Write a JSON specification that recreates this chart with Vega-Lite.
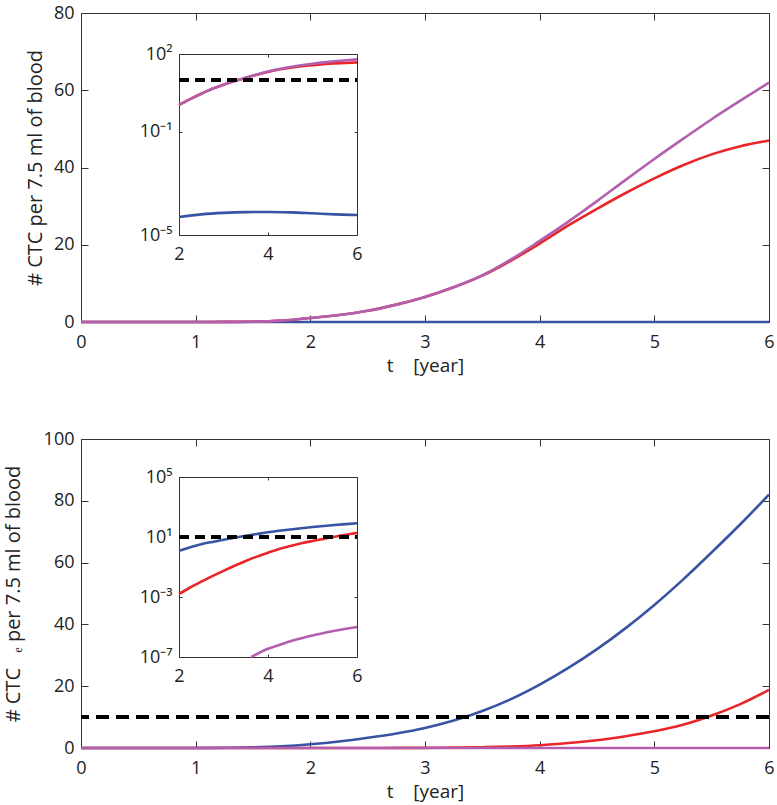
{
  "$schema": "https://vega.github.io/schema/vega-lite/v6.json",
  "padding": {"left": 3, "top": 4, "right": 2, "bottom": 4},
  "autosize": {"type": "pad"},
  "background": "white",
  "config": {
    "view": {"stroke": null},
    "axis": {
      "grid": false,
      "domainColor": "#333333",
      "tickColor": "#333333",
      "labelColor": "#222222",
      "titleColor": "#222222",
      "labelFont": "Open Sans",
      "titleFont": "Open Sans",
      "labelFontSize": 18,
      "titleFontSize": 20,
      "titleFontWeight": "normal",
      "labelFlush": false,
      "labelOverlap": false
    }
  },
  "datasets": {
    "top": [
      {"s": "B", "t": 0, "v": 0},
      {"s": "B", "t": 1, "v": 0.00002},
      {"s": "B", "t": 1.5, "v": 0.000035},
      {"s": "B", "t": 2, "v": 0.00005},
      {"s": "B", "t": 2.5, "v": 0.000063},
      {"s": "B", "t": 3, "v": 0.000072},
      {"s": "B", "t": 3.5, "v": 0.000077},
      {"s": "B", "t": 4, "v": 0.000078},
      {"s": "B", "t": 4.5, "v": 0.000075},
      {"s": "B", "t": 5, "v": 0.000069},
      {"s": "B", "t": 5.5, "v": 0.000063},
      {"s": "B", "t": 6, "v": 0.000059},
      {"s": "R", "t": 0, "v": 0},
      {"s": "R", "t": 0.5, "v": 0},
      {"s": "R", "t": 1, "v": 0.003},
      {"s": "R", "t": 1.25, "v": 0.02},
      {"s": "R", "t": 1.5, "v": 0.08},
      {"s": "R", "t": 1.75, "v": 0.35},
      {"s": "R", "t": 2, "v": 1.05},
      {"s": "R", "t": 2.25, "v": 1.8},
      {"s": "R", "t": 2.5, "v": 2.9},
      {"s": "R", "t": 2.75, "v": 4.5},
      {"s": "R", "t": 3, "v": 6.5},
      {"s": "R", "t": 3.25, "v": 9.0},
      {"s": "R", "t": 3.5, "v": 12},
      {"s": "R", "t": 3.75, "v": 15.9},
      {"s": "R", "t": 4, "v": 20.3},
      {"s": "R", "t": 4.25, "v": 25},
      {"s": "R", "t": 4.5, "v": 29.3},
      {"s": "R", "t": 4.75, "v": 33.4},
      {"s": "R", "t": 5, "v": 37.2},
      {"s": "R", "t": 5.25, "v": 40.6},
      {"s": "R", "t": 5.5, "v": 43.4},
      {"s": "R", "t": 5.75, "v": 45.5},
      {"s": "R", "t": 6, "v": 47},
      {"s": "P", "t": 0, "v": 0},
      {"s": "P", "t": 0.5, "v": 0},
      {"s": "P", "t": 1, "v": 0.003},
      {"s": "P", "t": 1.25, "v": 0.02},
      {"s": "P", "t": 1.5, "v": 0.08},
      {"s": "P", "t": 1.75, "v": 0.35},
      {"s": "P", "t": 2, "v": 1.05},
      {"s": "P", "t": 2.25, "v": 1.8},
      {"s": "P", "t": 2.5, "v": 2.9},
      {"s": "P", "t": 2.75, "v": 4.5},
      {"s": "P", "t": 3, "v": 6.5},
      {"s": "P", "t": 3.25, "v": 9.0},
      {"s": "P", "t": 3.5, "v": 12.1},
      {"s": "P", "t": 3.75, "v": 16.2},
      {"s": "P", "t": 4, "v": 21},
      {"s": "P", "t": 4.25, "v": 26},
      {"s": "P", "t": 4.5, "v": 31.3},
      {"s": "P", "t": 4.75, "v": 36.8},
      {"s": "P", "t": 5, "v": 42.2},
      {"s": "P", "t": 5.25, "v": 47.4},
      {"s": "P", "t": 5.5, "v": 52.5},
      {"s": "P", "t": 5.75, "v": 57.3},
      {"s": "P", "t": 6, "v": 62}
    ],
    "bot": [
      {"s": "B", "t": 0, "v": 0},
      {"s": "B", "t": 0.5, "v": 0.0005},
      {"s": "B", "t": 1, "v": 0.02},
      {"s": "B", "t": 1.25, "v": 0.07},
      {"s": "B", "t": 1.5, "v": 0.2},
      {"s": "B", "t": 1.75, "v": 0.55},
      {"s": "B", "t": 2, "v": 1.2},
      {"s": "B", "t": 2.25, "v": 2.1},
      {"s": "B", "t": 2.5, "v": 3.3},
      {"s": "B", "t": 2.75, "v": 4.7},
      {"s": "B", "t": 3, "v": 6.5},
      {"s": "B", "t": 3.25, "v": 8.9},
      {"s": "B", "t": 3.5, "v": 12},
      {"s": "B", "t": 3.75, "v": 15.8},
      {"s": "B", "t": 4, "v": 20.5},
      {"s": "B", "t": 4.25, "v": 25.9},
      {"s": "B", "t": 4.5, "v": 32},
      {"s": "B", "t": 4.75, "v": 38.8},
      {"s": "B", "t": 5, "v": 46.3},
      {"s": "B", "t": 5.25, "v": 54.5},
      {"s": "B", "t": 5.5, "v": 63.3},
      {"s": "B", "t": 5.75, "v": 72.4},
      {"s": "B", "t": 6, "v": 82},
      {"s": "R", "t": 0, "v": 0},
      {"s": "R", "t": 1, "v": 0.00001},
      {"s": "R", "t": 1.5, "v": 0.0002},
      {"s": "R", "t": 2, "v": 0.0016},
      {"s": "R", "t": 2.25, "v": 0.0043},
      {"s": "R", "t": 2.5, "v": 0.0105},
      {"s": "R", "t": 2.75, "v": 0.0245},
      {"s": "R", "t": 3, "v": 0.055},
      {"s": "R", "t": 3.25, "v": 0.12},
      {"s": "R", "t": 3.5, "v": 0.25},
      {"s": "R", "t": 3.75, "v": 0.49},
      {"s": "R", "t": 4, "v": 0.9},
      {"s": "R", "t": 4.25, "v": 1.6},
      {"s": "R", "t": 4.5, "v": 2.5},
      {"s": "R", "t": 4.75, "v": 3.8},
      {"s": "R", "t": 5, "v": 5.4},
      {"s": "R", "t": 5.25, "v": 7.5},
      {"s": "R", "t": 5.5, "v": 10.5},
      {"s": "R", "t": 5.75, "v": 14.2},
      {"s": "R", "t": 6, "v": 18.8},
      {"s": "P", "t": 0, "v": 0},
      {"s": "P", "t": 2, "v": 0},
      {"s": "P", "t": 3.62, "v": 1e-7},
      {"s": "P", "t": 3.75, "v": 1.58e-7},
      {"s": "P", "t": 4, "v": 3.55e-7},
      {"s": "P", "t": 4.25, "v": 6.3e-7},
      {"s": "P", "t": 4.5, "v": 1.12e-6},
      {"s": "P", "t": 4.75, "v": 1.78e-6},
      {"s": "P", "t": 5, "v": 2.7e-6},
      {"s": "P", "t": 5.25, "v": 4e-6},
      {"s": "P", "t": 5.5, "v": 5.6e-6},
      {"s": "P", "t": 5.75, "v": 7.6e-6},
      {"s": "P", "t": 6, "v": 1e-5}
    ]
  },
  "bounds": "flush",
  "spacing": 117,
  "vconcat": [
    {
      "width": 688,
      "height": 309,
      "data": {"name": "top"},
      "layer": [
        {
          "layer": [
            {
              "mark": {"type": "line", "strokeWidth": 2.6, "interpolate": "monotone"},
              "encoding": {
                "x": {"field": "t", "type": "quantitative", "scale": {"domain": [0, 6], "nice": false},
                  "axis": {"orient": "bottom", "values": [0, 1, 2, 3, 4, 5, 6], "tickSize": -7, "labelPadding": 18, "title": "t\u00a0\u00a0\u00a0\u00a0[year]", "titleFontSize": 19, "titlePadding": 5}},
                "y": {"field": "v", "type": "quantitative", "scale": {"domain": [0, 80], "nice": false},
                  "axis": {"orient": "left", "values": [0, 20, 40, 60, 80], "tickSize": -7, "labelPadding": 14, "title": "# CTC per 7.5 ml of blood", "titlePadding": 8}},
                "color": {"field": "s", "type": "nominal", "scale": {"domain": ["B", "R", "P"], "range": ["#3953a4", "#e8262a", "#b35fb0"]}, "legend": null}
              }
            }
          ]
        },
        {
          "mark": {"type": "point", "opacity": 0},
          "encoding": {
            "x": {"field": "t", "type": "quantitative", "scale": {"domain": [0, 6], "nice": false},
              "axis": {"orient": "top", "values": [0, 1, 2, 3, 4, 5, 6], "tickSize": -7, "labels": false, "title": null}},
            "y": {"field": "v", "type": "quantitative", "scale": {"domain": [0, 80], "nice": false},
              "axis": {"orient": "right", "values": [0, 20, 40, 60, 80], "tickSize": -7, "labels": false, "title": null}}
          }
        },
        {
          "transform": [{"filter": "datum.t >= 2 && datum.v > 0"}],
          "layer": [
            {
              "mark": {"type": "line", "strokeWidth": 2.6, "interpolate": "monotone"},
              "encoding": {
                "x": {"field": "t", "type": "quantitative", "scale": {"domain": [2, 6], "range": [98, 276], "nice": false},
                  "axis": {"orient": "bottom", "offset": -87, "values": [2, 4, 6], "format": "d", "tickSize": -3, "labelPadding": 13, "title": null}},
                "y": {"field": "v", "type": "quantitative", "scale": {"type": "log", "domain": [0.00001, 100], "range": [222, 41], "nice": false},
                  "axis": {"orient": "left", "offset": -98, "values": [0.00001, 0.1, 100], "tickSize": -3, "labelPadding": 10, "title": null,
                    "labelExpr": "datum.value >= 50 ? '10²' : datum.value >= 0.05 ? '10⁻¹' : '10⁻⁵'"}},
                "color": {"field": "s", "type": "nominal", "scale": {"domain": ["B", "R", "P"], "range": ["#3953a4", "#e8262a", "#b35fb0"]}, "legend": null}
              }
            },
            {
              "mark": {"type": "rule", "strokeDash": [10, 6], "strokeWidth": 3, "color": "black"},
              "encoding": {
                "x": {"datum": 2, "type": "quantitative"},
                "x2": {"datum": 6},
                "y": {"datum": 10, "type": "quantitative"}
              }
            }
          ]
        },
        {
          "transform": [{"filter": "datum.t >= 2 && datum.v > 0"}],
          "mark": {"type": "point", "opacity": 0},
          "encoding": {
            "x": {"field": "t", "type": "quantitative", "scale": {"domain": [2, 6], "range": [98, 276], "nice": false},
              "axis": {"orient": "top", "offset": -41, "values": [2, 4, 6], "tickSize": -3, "labels": false, "title": null}},
            "y": {"field": "v", "type": "quantitative", "scale": {"type": "log", "domain": [0.00001, 100], "range": [222, 41], "nice": false},
              "axis": {"orient": "right", "offset": -412, "values": [0.00001, 0.1, 100], "tickSize": -3, "labels": false, "title": null}}
          }
        }
      ],
      "resolve": {"scale": {"x": "independent", "y": "independent"}}
    },
    {
      "width": 688,
      "height": 309,
      "data": {"name": "bot"},
      "layer": [
        {
          "layer": [
            {
              "mark": {"type": "line", "strokeWidth": 2.6, "interpolate": "monotone"},
              "encoding": {
                "x": {"field": "t", "type": "quantitative", "scale": {"domain": [0, 6], "nice": false},
                  "axis": {"orient": "bottom", "values": [0, 1, 2, 3, 4, 5, 6], "tickSize": -7, "labelPadding": 18, "title": "t\u00a0\u00a0\u00a0\u00a0[year]", "titleFontSize": 19, "titlePadding": 5}},
                "y": {"field": "v", "type": "quantitative", "scale": {"domain": [0, 100], "nice": false},
                  "axis": {"orient": "left", "values": [0, 20, 40, 60, 80, 100], "tickSize": -7, "labelPadding": 14, "title": "# CTC\u00a0\u00a0\u00a0ₑ per 7.5 ml of blood", "titlePadding": 20}},
                "color": {"field": "s", "type": "nominal", "scale": {"domain": ["B", "R", "P"], "range": ["#3953a4", "#e8262a", "#b35fb0"]}, "legend": null}
              }
            },
            {
              "mark": {"type": "rule", "strokeDash": [13, 7], "strokeWidth": 3, "color": "black"},
              "encoding": {"y": {"datum": 10, "type": "quantitative"}}
            }
          ]
        },
        {
          "mark": {"type": "point", "opacity": 0},
          "encoding": {
            "x": {"field": "t", "type": "quantitative", "scale": {"domain": [0, 6], "nice": false},
              "axis": {"orient": "top", "values": [0, 1, 2, 3, 4, 5, 6], "tickSize": -7, "labels": false, "title": null}},
            "y": {"field": "v", "type": "quantitative", "scale": {"domain": [0, 100], "nice": false},
              "axis": {"orient": "right", "values": [0, 20, 40, 60, 80, 100], "tickSize": -7, "labels": false, "title": null}}
          }
        },
        {
          "transform": [{"filter": "datum.t >= 2 && datum.v > 0"}],
          "layer": [
            {
              "mark": {"type": "line", "strokeWidth": 2.6, "interpolate": "monotone"},
              "encoding": {
                "x": {"field": "t", "type": "quantitative", "scale": {"domain": [2, 6], "range": [98, 276], "nice": false},
                  "axis": {"orient": "bottom", "offset": -91, "values": [2, 4, 6], "format": "d", "tickSize": -3, "labelPadding": 13, "title": null}},
                "y": {"field": "v", "type": "quantitative", "scale": {"type": "log", "domain": [1e-7, 100000], "range": [218, 38], "nice": false},
                  "axis": {"orient": "left", "offset": -98, "values": [1e-7, 0.001, 10, 100000], "tickSize": -3, "labelPadding": 10, "title": null,
                    "labelExpr": "datum.value >= 10000 ? '10⁵' : datum.value >= 1 ? '10¹' : datum.value >= 0.0001 ? '10⁻³' : '10⁻⁷'"}},
                "color": {"field": "s", "type": "nominal", "scale": {"domain": ["B", "R", "P"], "range": ["#3953a4", "#e8262a", "#b35fb0"]}, "legend": null}
              }
            },
            {
              "mark": {"type": "rule", "strokeDash": [10, 6], "strokeWidth": 3, "color": "black"},
              "encoding": {
                "x": {"datum": 2, "type": "quantitative"},
                "x2": {"datum": 6},
                "y": {"datum": 10, "type": "quantitative"}
              }
            }
          ]
        },
        {
          "transform": [{"filter": "datum.t >= 2 && datum.v > 0"}],
          "mark": {"type": "point", "opacity": 0},
          "encoding": {
            "x": {"field": "t", "type": "quantitative", "scale": {"domain": [2, 6], "range": [98, 276], "nice": false},
              "axis": {"orient": "top", "offset": -38, "values": [2, 4, 6], "tickSize": -3, "labels": false, "title": null}},
            "y": {"field": "v", "type": "quantitative", "scale": {"type": "log", "domain": [1e-7, 100000], "range": [218, 38], "nice": false},
              "axis": {"orient": "right", "offset": -412, "values": [1e-7, 0.001, 10, 100000], "tickSize": -3, "labels": false, "title": null}}
          }
        }
      ],
      "resolve": {"scale": {"x": "independent", "y": "independent"}}
    }
  ]
}
